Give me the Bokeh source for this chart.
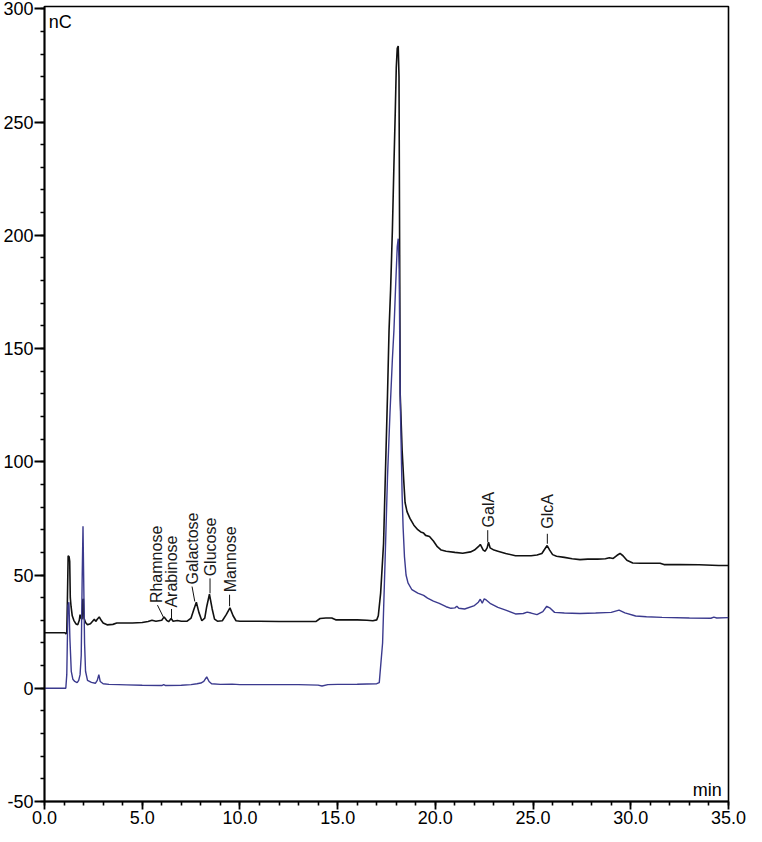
import math
from bokeh.plotting import figure
from bokeh.models import (Range1d, SingleIntervalTicker, PrintfTickFormatter,
                          Label, ColumnDataSource)
from bokeh.core.properties import value
from bokeh.embed import file_html
from bokeh.resources import INLINE

# ---- data ----
t_sample = [0.0, 0.5, 1.05, 1.1, 1.14, 1.17, 1.21, 1.26, 1.29, 1.32, 1.36, 1.42, 1.5, 1.6, 1.7,
            1.78, 1.82, 1.87, 1.92, 1.96, 1.99, 2.02, 2.1, 2.2, 2.35, 2.45, 2.55, 2.62, 2.7,
            2.8, 2.9, 3.0, 3.2, 3.5, 3.7, 4.0, 4.5, 5.0, 5.3, 5.5, 5.7, 6.0, 6.12, 6.25,
            6.35, 6.48, 6.58, 6.8, 7.0, 7.3, 7.5, 7.65, 7.77, 7.9, 8.05, 8.2, 8.3, 8.44,
            8.58, 8.7, 8.85, 9.1, 9.3, 9.49, 9.65, 9.8, 10.0, 11.0, 12.0, 13.0, 13.9, 14.1,
            14.4, 14.7, 14.9, 15.5, 16.0, 16.5, 16.8, 17.0, 17.08, 17.2, 17.35, 17.46, 17.55,
            17.63, 17.71, 17.8, 17.88, 17.95, 18.0, 18.05, 18.1, 18.14, 18.2, 18.3, 18.38,
            18.45, 18.55, 18.7, 18.9, 19.1, 19.25, 19.4, 19.5, 19.7, 19.9, 20.1, 20.3, 20.55,
            21.0, 21.4, 21.8, 22.0, 22.2, 22.3, 22.45, 22.55, 22.65, 22.72, 22.8, 23.0, 23.2,
            23.6, 24.1, 24.5, 24.9, 25.2, 25.45, 25.6, 25.72, 25.85, 26.0, 26.2, 26.6, 27.0,
            27.4, 27.8, 28.3, 28.7, 28.9, 29.1, 29.3, 29.45, 29.6, 29.8, 30.1, 30.5, 31.0,
            31.5, 31.7, 32.5, 33.5, 34.5, 35.0]
nc_sample = [24.5, 24.5, 24.5, 24.0, 24.5, 38, 58.5, 58, 56, 40, 36, 32, 30, 28.5, 28,
             30, 32.5, 31, 30.5, 39, 39.5, 31, 29, 28, 28.5, 29.5, 30.5, 29.5, 30.5,
             31.5, 30, 28.8, 28, 28.2, 28.8, 28.8, 28.8, 29.0, 29.5, 30.0, 29.6, 30.0, 31.5, 30.0,
             29.4, 30.8, 29.6, 29.9, 29.6, 29.6, 31.0, 35, 38, 33.5, 29.8, 31, 36, 41.5,
             35, 30.5, 29.6, 29.8, 32.5, 35.5, 32, 29.8, 29.6, 29.6, 29.5, 29.5, 29.5, 30.8,
             31.0, 31.0, 30.2, 30.2, 30.2, 30.0, 29.8, 30.2, 32, 42, 64, 100, 129,
             158, 176, 202, 231, 255, 274, 282.5, 283.5, 270, 130, 105, 92,
             82, 78, 75, 72, 70, 69, 68.5, 67.5, 67, 65, 62.5, 61, 60.5,
             60, 59.6, 60.2, 61, 62.5, 63.5, 61, 60.5, 62, 64.5, 62, 61, 60.5,
             59.5, 58.5, 58.5, 58.5, 58.8, 59.5, 61.5, 63, 61, 59, 58.3, 57.8, 57.2,
             56.8, 57.0, 57.0, 57.2, 57.6, 57.3, 58.7, 59.5, 58.5, 56.5, 55.3, 55.2, 55.2,
             55.2, 54.6, 54.6, 54.5, 54.2, 54.2]

t_standard = [0.0, 1.09, 1.14, 1.2, 1.25, 1.3, 1.37, 1.45, 1.55, 1.67, 1.75, 1.82, 1.88, 1.93,
              1.97, 2.01, 2.05, 2.1, 2.2, 2.4, 2.6, 2.7, 2.78, 2.85, 3.0, 3.3, 3.8, 4.2, 5.0,
              6.0, 6.1, 6.2, 7.0, 7.5, 7.8, 8.0, 8.15, 8.3, 8.42, 8.55, 9.0, 9.6, 10.0, 11.0,
              12.0, 13.0, 14.0, 14.2, 14.5, 15.0, 16.0, 16.5, 17.0, 17.13, 17.3, 17.43, 17.55,
              17.68, 17.8, 17.88, 17.96, 18.05, 18.1, 18.15, 18.2, 18.3, 18.35, 18.42, 18.5,
              18.6, 18.8, 19.1, 19.4, 19.6, 19.9, 20.2, 20.55, 20.8, 21.0, 21.1, 21.2, 21.5,
              22.0, 22.2, 22.3, 22.4, 22.5, 22.6, 22.8, 23.2, 23.6, 24.1, 24.5, 24.7, 24.9,
              25.2, 25.5, 25.7, 25.85, 26.1, 26.6, 27.4, 28.2, 28.7, 29.0, 29.4, 29.7, 30.25,
              30.8, 31.6, 33.0, 34.1, 34.25, 34.4, 35.0]
nc_standard = [0, 0, 6, 36.5, 38, 22, 7.5, 4, 3, 2.5, 3.5, 6, 14.6, 50,
               71.5, 45, 20, 7.5, 3.5, 2.6, 2.2, 3.5, 6, 3, 2.0, 1.7, 1.6, 1.5, 1.3,
               1.2, 1.6, 1.2, 1.3, 1.6, 2.0, 2.3, 3, 5, 3, 2.0, 1.7, 1.8, 1.6, 1.6,
               1.6, 1.6, 1.4, 1.0, 1.6, 1.7, 1.8, 1.9, 2.0, 2.5, 20, 57, 93,
               122, 145, 158, 176, 195, 198.5, 185, 129, 85, 71, 58, 50,
               46.5, 43.5, 42, 41, 39.8, 38.5, 37.5, 36, 35.3, 35.5, 36.2, 35.3, 35,
               36.5, 38, 39.3, 37.5, 39.5, 39, 37.5, 35.7, 34.5, 32.8, 33, 33.6, 33.2,
               32.5, 33.8, 36.2, 35.5, 33.5, 33.2, 33, 33.2, 33.4, 33.5, 34.5, 33.3, 31.9,
               31.6, 31.3, 31.0, 30.9, 31.4, 31.0, 31.2]

peak_names = ["Rhamnose", "Arabinose", "Galactose", "Glucose", "Mannose", "GalA", "GlcA"]
peak_t = [6.10, 6.50, 7.69, 8.47, 9.47, 22.68, 25.73]
peak_nc = [31.1, 31.0, 38.3, 41.9, 36.2, 64.6, 63.8]

# ---- annotation geometry (style, not data) ----
lead_x1 = [5.78, 6.50, 7.55, 8.47, 9.47, 22.68, 25.73]
lead_y1 = [36.7, 35.0, 44.9, 48.5, 41.3, 69.8, 68.2]
text_x = [5.75, 6.52, 7.59, 8.51, 9.54, 22.71, 25.75]
text_y = [37.6, 35.6, 45.8, 49.4, 42.4, 71.0, 70.4]

FONT = "Liberation Sans"

p = figure(width=746, height=826, output_backend="svg", toolbar_location=None,
           x_range=Range1d(0, 35), y_range=Range1d(-50, 301),
           min_border_top=6, min_border_right=18, min_border_left=5,
           background_fill_color="white", border_fill_color="white")

p.xgrid.visible = False
p.ygrid.visible = False
p.outline_line_color = "black"
p.outline_line_width = 1.6
p.outline_line_alpha = 1.0

p.xaxis.ticker = SingleIntervalTicker(interval=5, num_minor_ticks=5)
p.xaxis.formatter = PrintfTickFormatter(format="%.1f")
p.yaxis.ticker = SingleIntervalTicker(interval=50, num_minor_ticks=5)
p.yaxis.formatter = PrintfTickFormatter(format="%d")

for ax in (p.xaxis, p.yaxis):
    ax.axis_line_color = "black"
    ax.axis_line_width = 1.8
    ax.major_tick_line_color = "black"
    ax.major_tick_line_width = 1.8
    ax.minor_tick_line_color = "black"
    ax.minor_tick_line_width = 1.6
    ax.major_tick_in = 0
    ax.minor_tick_in = 0
    ax.minor_tick_out = 4
    ax.major_label_text_font = FONT
    ax.major_label_text_font_size = "18px"
    ax.major_label_text_color = "black"
    ax.major_label_standoff = 1
p.xaxis.major_tick_out = 8
p.yaxis.major_tick_out = 10

p.line(t_sample, nc_sample, line_color="#111111", line_width=1.6)
p.line(t_standard, nc_standard, line_color="#3b3a8e", line_width=1.4)

p.segment(x0=peak_t, y0=peak_nc, x1=lead_x1, y1=lead_y1, line_color="#111111", line_width=1)

src = ColumnDataSource(dict(x=text_x, y=text_y, txt=peak_names))
p.text(x="x", y="y", text="txt", source=src, angle=math.pi / 2,
       text_align="left", text_baseline="middle",
       text_font=value(FONT), text_font_size=value("16px"), text_color="#1a1a1a")

p.add_layout(Label(x=0.22, y=298.5, text="nC", text_align="left", text_baseline="top",
                   text_font=FONT, text_font_size="18px", text_color="black"))
p.add_layout(Label(x=34.65, y=-49.3, text="min", text_align="right", text_baseline="bottom",
                   text_font=FONT, text_font_size="18px", text_color="black"))

open("out.html", "w").write(file_html(p, INLINE))
